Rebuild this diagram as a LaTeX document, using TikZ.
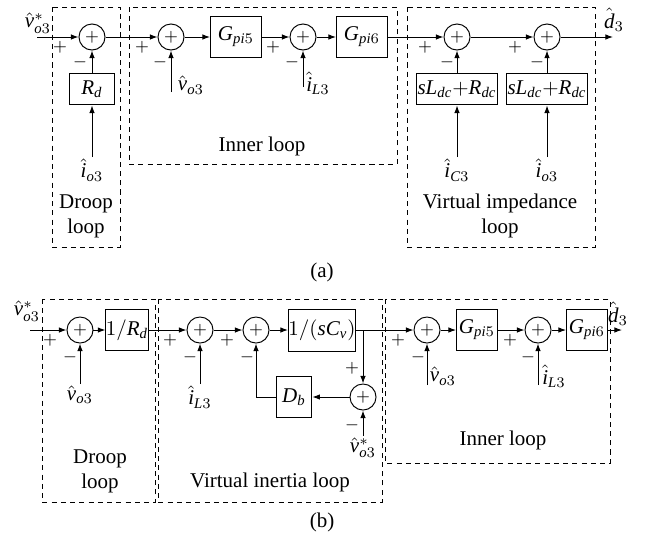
\documentclass[tikz,border=0pt]{standalone}
\usepackage{amsmath}
\usepackage{fontspec}
\setmainfont{Liberation Serif}
\usetikzlibrary{arrows.meta}
\newcommand{\itm}[1]{\mathit{#1}}

\begin{document}
\begin{tikzpicture}[x=0.476pt, y=-0.476pt, line width=0.45pt,
    sumnode/.style={draw, shape=circle, inner sep=0, minimum size=12.4pt, font=\footnotesize},
    blk/.style={draw, shape=rectangle, inner sep=0, minimum height=19.5pt},
    arr/.style={-{Latex[length=3.6pt, width=2.6pt]}},
    loopbox/.style={dash pattern=on 2.4pt off 2pt},
    sgn/.style={inner sep=0, font=\footnotesize},
    sig/.style={inner sep=0.5pt}]

    \useasboundingbox (0,0) rectangle (650,533);

    % (a) loops
    \draw[loopbox] (52,7) rectangle (120,247);
    \draw[loopbox] (129,7) rectangle (397,164);
    \draw[loopbox] (407,7) rectangle (595,247);
    \node[align=center] (tdroopa) at (86,216) {Droop\\loop};
    \node (tinnera) at (262,146) {Inner loop};
    \node[align=center] (timpa) at (500,216) {Virtual impedance\\loop};
    \node (capa) at (322,272) {(a)};

    % (a) blocks
    \node[sumnode] (sa1) at (92,37) {$+$};
    \node[sumnode] (sa2) at (171,37) {$+$};
    \node[blk, minimum width=24.3pt] (ga5) at (236,37) {$\itm{G}_{\itm{pi}5}$};
    \node[sumnode] (sa3) at (303,37) {$+$};
    \node[blk, minimum width=24.3pt] (ga6) at (362,37) {$\itm{G}_{\itm{pi}6}$};
    \node[sumnode] (sa4) at (457,37) {$+$};
    \node[sumnode] (sa5) at (547,37) {$+$};
    \node[blk, minimum width=21.4pt, minimum height=15.2pt] (rda) at (92,89) {$\itm{R}_{\itm{d}}$};
    \node[blk, minimum width=38.6pt, minimum height=15.2pt] (za1) at (457,89) {$\itm{sL}_{\itm{dc}}{+}\itm{R}_{\itm{dc}}$};
    \node[blk, minimum width=38.6pt, minimum height=15.2pt] (za2) at (547,89) {$\itm{sL}_{\itm{dc}}{+}\itm{R}_{\itm{dc}}$};

    % (a) signals
    \coordinate (ina) at (37,37);
    \coordinate (outa) at (613,37);
    \coordinate (cva) at (171,92);
    \coordinate (cia) at (303,87);
    \node[sig] (lrefa) at (38,23) {$\hat{\itm{v}}_{\itm{o}3}^{*}$};
    \node[sig] (lva) at (191,85) {$\hat{\itm{v}}_{\itm{o}3}$};
    \node[sig] (lia) at (318,83) {$\hat{\itm{i}}_{\itm{L}3}$};
    \node[sig, anchor=north] (lioa) at (92,157) {$\hat{\itm{i}}_{\itm{o}3}$};
    \node[sig, anchor=north] (lic) at (457,157) {$\hat{\itm{i}}_{\itm{C}3}$};
    \node[sig, anchor=north] (liob) at (547,157) {$\hat{\itm{i}}_{\itm{o}3}$};
    \node[sig] (lda) at (614,20) {$\hat{\itm{d}}_3$};

    \draw[arr] (ina) -- (sa1);
    \draw[arr] (sa1) -- (sa2);
    \draw[arr] (sa2) -- (ga5);
    \draw[arr] (ga5) -- (sa3);
    \draw[arr] (sa3) -- (ga6);
    \draw[arr] (ga6) -- (sa4);
    \draw[arr] (sa4) -- (sa5);
    \draw[arr] (sa5) -- (outa);
    \draw[arr] (rda) -- (sa1);
    \draw[arr] (lioa) -- (rda);
    \draw[arr] (cva) -- (sa2);
    \draw[arr] (cia) -- (sa3);
    \draw[arr] (za1) -- (sa4);
    \draw[arr] (lic) -- (za1);
    \draw[arr] (za2) -- (sa5);
    \draw[arr] (liob) -- (za2);

    % (a) signs
    \node[sgn] at (60,47) {$+$};
    \node[sgn] at (80,62) {$-$};
    \node[sgn] at (142,47) {$+$};
    \node[sgn] at (160,62) {$-$};
    \node[sgn] at (273,47) {$+$};
    \node[sgn] at (292,62) {$-$};
    \node[sgn] at (425,47) {$+$};
    \node[sgn] at (447,62) {$-$};
    \node[sgn] at (515,47) {$+$};
    \node[sgn] at (537,62) {$-$};

    % (b) loops
    \draw[loopbox] (42,299) rectangle (155,502);
    \draw[loopbox] (158,299) rectangle (382,502);
    \draw[loopbox] (385,299) rectangle (610,463);
    \node[align=center] (tdroopb) at (100,471) {Droop\\loop};
    \node (tinertb) at (270,482) {Virtual inertia loop};
    \node (tinnerb) at (503,440) {Inner loop};
    \node (capb) at (322,522) {(b)};

    % (b) blocks
    \node[sumnode] (sb1) at (80,330) {$+$};
    \node[blk, minimum width=19.5pt] (rdb) at (127,330) {$1/\itm{R}_{\itm{d}}$};
    \node[sumnode] (sb2) at (200,330) {$+$};
    \node[sumnode] (sb3) at (256,330) {$+$};
    \node[blk, minimum width=31pt, minimum height=20pt] (cvb) at (322,330) {$1/(\itm{sC}_{\itm{v}})$};
    \node[sumnode] (sb4) at (363,397) {$+$};
    \node[blk, minimum width=17pt] (db) at (294,397) {$\itm{D}_{\itm{b}}$};
    \node[sumnode] (sb5) at (427,330) {$+$};
    \node[blk, minimum width=19.5pt] (gb5) at (477,330) {$\itm{G}_{\itm{pi}5}$};
    \node[sumnode] (sb6) at (538,330) {$+$};
    \node[blk, minimum width=19.5pt] (gb6) at (587,330) {$\itm{G}_{\itm{pi}6}$};

    % (b) signals
    \coordinate (inb) at (30,330);
    \coordinate (outb) at (622,330);
    \coordinate (brb) at (363,330);
    \coordinate (cvb5) at (427,385);
    \coordinate (cib6) at (538,385);
    \node[sig] (lrefb) at (27,311) {$\hat{\itm{v}}_{\itm{o}3}^{*}$};
    \node[sig, anchor=north] (lvb1) at (80,384) {$\hat{\itm{v}}_{\itm{o}3}$};
    \node[sig, anchor=north] (lib2) at (200,384) {$\hat{\itm{i}}_{\itm{L}3}$};
    \node[sig, anchor=north] (lrefb4) at (363,436) {$\hat{\itm{v}}_{\itm{o}3}^{*}$};
    \node[sig] (lvb5) at (443,376) {$\hat{\itm{v}}_{\itm{o}3}$};
    \node[sig] (lib6) at (554,376) {$\hat{\itm{i}}_{\itm{L}3}$};
    \node[sig] (ldb) at (618,314) {$\hat{\itm{d}}_3$};

    \draw[arr] (inb) -- (sb1);
    \draw[arr] (sb1) -- (rdb);
    \draw[arr] (rdb) -- (sb2);
    \draw[arr] (sb2) -- (sb3);
    \draw[arr] (sb3) -- (cvb);
    \draw[arr] (cvb) -- (sb5);
    \draw[arr] (brb) -- (sb4);
    \draw[arr] (lrefb4) -- (sb4);
    \draw[arr] (sb4) -- (db);
    \draw[arr] (db) -| (sb3);
    \draw[arr] (lvb1) -- (sb1);
    \draw[arr] (lib2) -- (sb2);
    \draw[arr] (sb5) -- (gb5);
    \draw[arr] (gb5) -- (sb6);
    \draw[arr] (sb6) -- (gb6);
    \draw[arr] (gb6) -- (outb);
    \draw[arr] (cvb5) -- (sb5);
    \draw[arr] (cib6) -- (sb6);

    % (b) signs
    \node[sgn] at (50,340) {$+$};
    \node[sgn] at (70,357) {$-$};
    \node[sgn] at (170,340) {$+$};
    \node[sgn] at (190,357) {$-$};
    \node[sgn] at (227,340) {$+$};
    \node[sgn] at (247,357) {$-$};
    \node[sgn] at (352,368) {$+$};
    \node[sgn] at (352,425) {$-$};
    \node[sgn] at (398,340) {$+$};
    \node[sgn] at (418,357) {$-$};
    \node[sgn] at (510,340) {$+$};
    \node[sgn] at (528,357) {$-$};

\end{tikzpicture}
\end{document}
